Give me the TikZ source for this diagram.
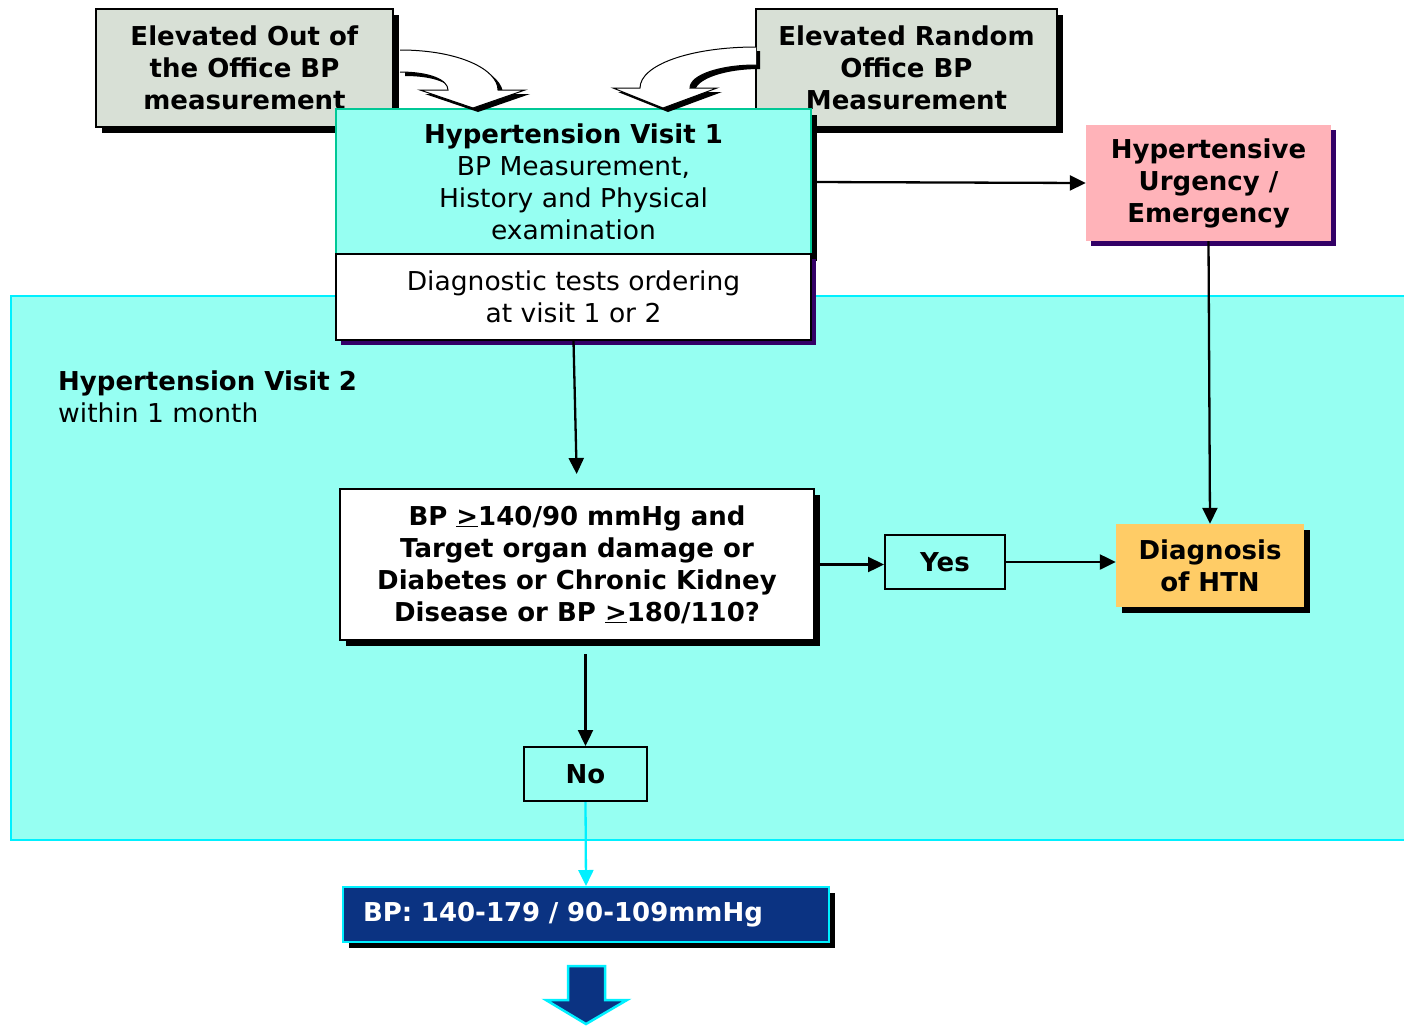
\documentclass[tikz,border=0pt]{standalone}
\usepackage{fontspec}
\setmainfont{DejaVu Sans}[UprightFeatures={FakeStretch=1.02}]
\usepackage{xcolor}
\usepackage{tikz}
\usetikzlibrary{arrows.meta, shadows}
\definecolor{htnGray}{RGB}{216,224,214}
\definecolor{htnAqua}{RGB}{150,255,242}
\definecolor{htnCyan}{RGB}{0,240,255}
\definecolor{htnTeal}{RGB}{0,200,150}
\definecolor{htnPink}{RGB}{255,179,185}
\definecolor{htnGold}{RGB}{255,204,102}
\definecolor{htnNavy}{RGB}{11,51,130}
\definecolor{htnPurple}{RGB}{51,0,102}
\tikzset{
  txt/.style={font=\fontsize{26}{32}\selectfont, align=center, inner sep=0pt},
  shadK/.style={drop shadow={shadow xshift=6pt, shadow yshift=-6pt, fill=black, opacity=1}},
  shadP/.style={drop shadow={shadow xshift=5pt, shadow yshift=-5pt, fill=htnPurple, opacity=1}},
  box/.style={txt, draw=black, line width=2pt},
  arr/.style={-{Triangle[length=16pt,width=15pt]}, line width=2.3pt},
}
\begin{document}
\begin{tikzpicture}[x=1pt, y=-1pt]
\useasboundingbox (0,0) rectangle (1404,1026);
% ===== visit 2 region =====
\fill[htnAqua] (11,296) rectangle (1404,840);
\draw[htnCyan, line width=1.5pt] (1404,296) -- (11,296) -- (11,840) -- (1404,840);
\node[txt, anchor=west, align=left] (visit2) at (58,397) {\textbf{Hypertension Visit 2}\\within 1 month};
% ===== boxes =====
\node[box, shadK, fill=htnGray, minimum width=297pt, minimum height=118pt] (outoffice) at (244.5,68)
  {\textbf{Elevated Out of}\\\textbf{the Office BP}\\\textbf{measurement}};
\node[box, shadK, fill=htnGray, minimum width=301pt, minimum height=118pt] (random) at (906.5,68)
  {\textbf{Elevated Random}\\\textbf{Office BP}\\\textbf{Measurement}};
\node[box, shadK, draw=htnTeal, fill=htnAqua, minimum width=475pt, minimum height=146pt] (visit1) at (573.5,182)
  {\textbf{Hypertension Visit 1}\\BP Measurement,\\History and Physical\\examination};
\node[box, shadP, fill=white, minimum width=475pt, minimum height=86pt] (tests) at (573.5,297)
  {Diagnostic tests ordering\\at visit 1 or 2};
\node[txt, shadP, fill=htnPink, minimum width=245pt, minimum height=116pt] (urgency) at (1208.5,183)
  {\textbf{Hypertensive}\\\textbf{Urgency /}\\\textbf{Emergency}};
\node[box, shadK, fill=white, minimum width=474pt, minimum height=151pt] (bpq) at (577,564.5)
  {\textbf{BP \underline{>}140/90 mmHg and}\\\textbf{Target organ damage or}\\\textbf{Diabetes or Chronic Kidney}\\\textbf{Disease or BP \underline{>}180/110?}};
\node[box, minimum width=120pt, minimum height=54pt] (yes) at (945,562) {\textbf{Yes}};
\node[txt, shadK, fill=htnGold, minimum width=188pt, minimum height=83pt] (diag) at (1210,565.5)
  {\textbf{Diagnosis}\\\textbf{of HTN}};
\node[box, minimum width=123pt, minimum height=54pt] (no) at (585.5,774) {\textbf{No}};
\node[box, shadK, draw=htnCyan, fill=htnNavy, text=white, text width=446pt, align=left, inner xsep=20pt,
  minimum height=55pt] (range) at (586,914.5) {\textbf{BP: 140-179 / 90-109mmHg}};
% ===== curved block arrows into visit 1 =====
\fill[black] (405,54) .. controls (465,54) and (503,74) .. (503,94) -- (530,94) -- (478,112) -- (425,94) -- (453,94)
  .. controls (453,84) and (435,76) .. (405,76) -- cycle;
\draw[fill=white, line width=1pt] (400,50) .. controls (460,50) and (498,70) .. (498,90) -- (525,90) -- (473,108) -- (420,90) -- (448,90)
  .. controls (448,80) and (430,72) .. (400,72);
\fill[black] (760,51) .. controls (695,51) and (645,69) .. (645,92) -- (618,92) -- (668,112) -- (722,92) -- (695,92)
  .. controls (695,79) and (725,69) .. (760,69) -- cycle;
\draw[fill=white, line width=1pt] (756,47) .. controls (690,47) and (640,65) .. (640,88) -- (613,88) -- (663,108) -- (717,88) -- (690,88)
  .. controls (690,75) and (720,65) .. (756,65);
% ===== connectors =====
\draw[arr] (visit1.east) -- (urgency.west);
\draw[arr] (urgency.south) -- (diag.north);
\draw[arr, shorten >=14pt] (tests.south) -- (bpq.north);
\draw[arr] (bpq.east) -- (bpq.east -| yes.west);
\draw[arr] (yes.east) -- (yes.east -| diag.west);
\draw[arr, shorten <=13pt] (no.north |- bpq.south) -- (no.north);
\draw[arr, htnCyan] (no.south) -- (range.north);
% ===== block arrow below =====
\draw[fill=htnNavy, draw=htnCyan, line width=2.5pt] (568,966) -- (605,966) -- (605,1000) -- (627,1000) -- (586,1024)
  -- (546,1000) -- (568,1000) -- cycle;
\end{tikzpicture}
\end{document}
